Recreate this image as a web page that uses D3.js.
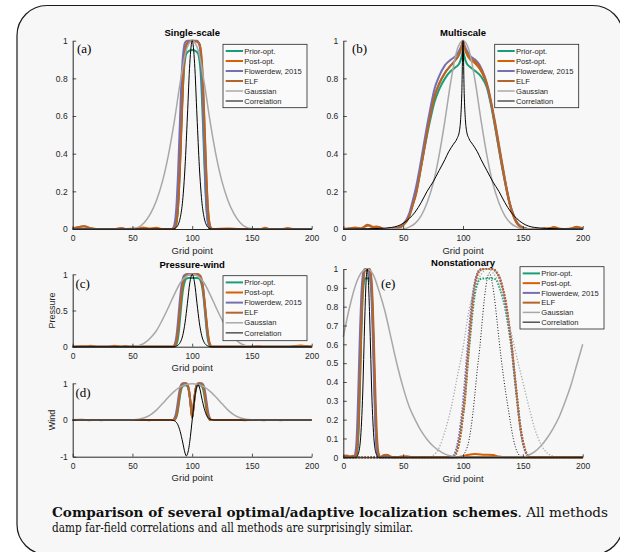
<!DOCTYPE html>
<html>
<head>
<meta charset="utf-8">
<script src="https://cdn.jsdelivr.net/npm/d3@7"></script>
<style>
  body { margin: 0; background: #fff; }
  svg { display: block; }
</style>
</head>
<body>
<svg id="chart" width="620" height="552"></svg>
<script>
// ---------- Data ----------
const gridTicks = [0, 50, 100, 150, 200];
const unitTicks = [0, 0.2, 0.4, 0.6, 0.8, 1];
const pressureTicks = [0, 0.5, 1];
const windTicks = [-1, 0, 1];
const tenthTicks = [0, 0.1, 0.2, 0.3, 0.4, 0.5, 0.6, 0.7, 0.8, 0.9, 1];
const legendNames = ["Prior-opt.", "Post-opt.", "Flowerdew, 2015", "ELF", "Gaussian", "Correlation"];
const seriesColors = ["#1b9e77", "#d95f02", "#7570b3", "#b5652a", "#a8a8a8", "#000000"];

// (a) Single-scale
const aPrior = [[0,0],[84,0],[85,0.004],[86,0.01],[87,0.04],[88,0.1],[89,0.22],[90,0.38],[91,0.56],[92,0.72],[93,0.84],[94,0.9],[95,0.93],[97,0.945],[100,0.95],[103,0.945],[105,0.93],[106,0.9],[107,0.84],[108,0.72],[109,0.56],[110,0.38],[111,0.22],[112,0.1],[113,0.04],[114,0.01],[115,0],[200,0]];
const aPost = [[0,0.003],[4,0.009],[9,0.015],[14,0.006],[19,0],[36,0],[40,0.005],[44,0],[55,0.002],[59,0.008],[64,0.002],[70,0.007],[75,0],[84,0],[85,0.005],[86,0.015],[87,0.05],[88,0.12],[89,0.24],[90,0.4],[91,0.58],[92,0.75],[93,0.88],[94,0.95],[95,0.98],[97,0.995],[100,1],[104,0.995],[106,0.98],[107,0.95],[108,0.88],[109,0.76],[110,0.59],[111,0.41],[112,0.25],[113,0.12],[114,0.05],[115,0.015],[116,0.003],[117,0],[130,0.002],[140,0],[157,0],[161,0.006],[165,0],[176,0],[180,0.005],[184,0],[200,0]];
const aFlow = [[0,0],[83,0],[84,0.005],[85,0.02],[86,0.06],[87,0.14],[88,0.27],[89,0.44],[90,0.62],[91,0.79],[92,0.9],[93,0.96],[94,0.99],[96,1],[100,1],[104,1],[106,0.98],[107,0.93],[108,0.82],[109,0.64],[110,0.44],[111,0.26],[112,0.12],[113,0.04],[114,0.01],[115,0],[200,0]];
const aElf = [[0,0.002],[5,0.01],[10,0.014],[15,0.004],[20,0],[38,0],[41,0.004],[45,0],[84,0],[85,0.004],[86,0.012],[87,0.04],[88,0.1],[89,0.21],[90,0.36],[91,0.54],[92,0.71],[93,0.85],[94,0.93],[95,0.97],[97,0.99],[100,1],[104,0.995],[106,0.985],[107,0.96],[108,0.9],[109,0.79],[110,0.62],[111,0.44],[112,0.27],[113,0.13],[114,0.05],[115,0.015],[116,0.004],[117,0],[200,0]];
const aGauss = [[0,0],[48,0],[50,0.002],[55,0.01],[60,0.035],[65,0.08],[70,0.15],[75,0.25],[80,0.39],[85,0.57],[90,0.78],[95,0.95],[100,1],[105,0.95],[110,0.78],[115,0.57],[120,0.39],[125,0.25],[130,0.15],[135,0.08],[140,0.035],[145,0.01],[150,0.002],[152,0],[200,0]];
const aCorr = [[0,0],[84,0],[86,0.005],[88,0.02],[90,0.06],[92,0.15],[94,0.33],[96,0.6],[98,0.88],[100,1],[102,0.88],[104,0.6],[106,0.33],[108,0.15],[110,0.06],[112,0.02],[114,0.005],[116,0],[200,0]];

// (b) Multiscale
const bPrior = [[0,0],[40,0],[45,0.004],[50,0.02],[55,0.07],[58,0.13],[61,0.2],[64,0.3],[67,0.4],[70,0.5],[73,0.59],[76,0.67],[80,0.74],[85,0.8],[90,0.84],[94,0.86],[97,0.88],[99,0.92],[100,0.95],[101,0.92],[103,0.88],[106,0.86],[110,0.84],[115,0.81],[120,0.75],[123,0.67],[126,0.57],[129,0.46],[132,0.35],[135,0.25],[138,0.16],[141,0.09],[144,0.045],[148,0.015],[153,0.002],[156,0],[200,0]];
const bPost = [[0,0],[5,0.003],[10,0.008],[15,0.003],[20,0.022],[24,0.01],[28,0.013],[32,0.002],[36,0],[42,0.002],[46,0.008],[50,0.022],[55,0.07],[58,0.13],[61,0.2],[64,0.3],[67,0.41],[70,0.52],[73,0.62],[76,0.7],[80,0.77],[85,0.83],[90,0.87],[94,0.9],[97,0.93],[99,0.97],[100,1],[101,0.97],[103,0.93],[106,0.9],[110,0.88],[114,0.85],[118,0.8],[121,0.74],[124,0.65],[127,0.54],[130,0.43],[133,0.32],[136,0.22],[139,0.13],[142,0.07],[145,0.03],[149,0.008],[154,0],[163,0],[168,0.004],[172,0.002],[176,0.01],[181,0.002],[186,0],[192,0.006],[195,0.012],[198,0.006],[200,0.003]];
const bFlow = [[0,0],[40,0],[45,0.006],[50,0.025],[55,0.08],[58,0.15],[61,0.23],[64,0.33],[67,0.44],[70,0.55],[73,0.65],[76,0.74],[80,0.81],[85,0.87],[90,0.9],[94,0.92],[97,0.95],[99,0.98],[100,1],[101,0.98],[103,0.95],[106,0.92],[110,0.9],[114,0.87],[118,0.81],[121,0.74],[124,0.65],[127,0.55],[130,0.44],[133,0.33],[136,0.23],[139,0.14],[142,0.08],[145,0.035],[149,0.01],[154,0],[200,0]];
const bElf = [[0,0],[8,0.004],[13,0],[18,0.012],[22,0.02],[26,0.006],[30,0.01],[34,0],[40,0],[45,0.005],[50,0.02],[55,0.065],[58,0.125],[61,0.19],[64,0.29],[67,0.4],[70,0.51],[73,0.61],[76,0.7],[80,0.77],[85,0.83],[90,0.87],[94,0.9],[97,0.93],[99,0.97],[100,1],[101,0.97],[103,0.94],[106,0.91],[110,0.89],[114,0.86],[118,0.81],[121,0.75],[124,0.66],[127,0.56],[130,0.45],[133,0.34],[136,0.23],[139,0.14],[142,0.075],[145,0.035],[149,0.01],[154,0],[170,0],[175,0.008],[180,0],[190,0],[194,0.01],[200,0.004]];
const bGauss = [[0,0],[50,0],[52,0.003],[55,0.01],[60,0.03],[65,0.07],[70,0.14],[75,0.24],[80,0.39],[85,0.58],[90,0.79],[95,0.95],[100,1],[105,0.95],[110,0.79],[115,0.58],[120,0.39],[125,0.24],[130,0.14],[135,0.07],[140,0.03],[145,0.01],[148,0.003],[150,0],[200,0]];
const bCorr = [[0,0],[20,0.001],[30,0.003],[40,0.008],[45,0.015],[50,0.03],[55,0.055],[60,0.09],[65,0.14],[70,0.2],[75,0.25],[80,0.31],[85,0.37],[88,0.41],[92,0.45],[95,0.48],[97,0.52],[98,0.58],[99,0.72],[100,1],[101,0.72],[102,0.58],[103,0.52],[105,0.48],[108,0.45],[112,0.41],[115,0.37],[120,0.31],[125,0.25],[130,0.2],[135,0.14],[140,0.09],[145,0.055],[150,0.03],[155,0.015],[160,0.008],[170,0.003],[180,0.001],[200,0]];

// (c) Pressure-wind, pressure part
const cPrior = [[0,0],[85,0],[86,0.01],[87,0.04],[88,0.11],[89,0.24],[90,0.42],[91,0.6],[92,0.75],[93,0.85],[94,0.91],[95,0.94],[97,0.95],[104,0.95],[106,0.94],[107,0.91],[108,0.85],[109,0.75],[110,0.6],[111,0.42],[112,0.24],[113,0.11],[114,0.04],[115,0.01],[116,0],[200,0]];
const cPost = [[0,0],[10,0],[15,0.012],[20,0],[30,0],[35,0.012],[40,0],[84,0],[85,0.01],[86,0.04],[87,0.1],[88,0.22],[89,0.4],[90,0.58],[91,0.74],[92,0.86],[93,0.94],[94,0.98],[96,1],[104,1],[106,0.99],[107,0.96],[108,0.9],[109,0.8],[110,0.66],[111,0.5],[112,0.34],[113,0.19],[114,0.08],[115,0.025],[116,0.005],[117,0],[180,0],[185,0.008],[191,0.015],[196,0.008],[200,0.004]];
const cFlow = [[0,0],[84,0],[85,0.02],[86,0.07],[87,0.17],[88,0.33],[89,0.52],[90,0.7],[91,0.84],[92,0.93],[93,0.98],[95,1],[105,1],[107,0.97],[108,0.92],[109,0.82],[110,0.66],[111,0.48],[112,0.3],[113,0.15],[114,0.06],[115,0.015],[116,0],[200,0]];
const cElf = [[0,0],[8,0.006],[14,0],[40,0],[44,0.008],[48,0],[84,0],[85,0.008],[86,0.035],[87,0.09],[88,0.2],[89,0.37],[90,0.55],[91,0.72],[92,0.85],[93,0.93],[94,0.97],[96,0.995],[104,1],[106,0.99],[107,0.97],[108,0.92],[109,0.83],[110,0.69],[111,0.53],[112,0.36],[113,0.2],[114,0.09],[115,0.03],[116,0.006],[117,0],[150,0],[155,0.006],[160,0],[200,0]];
const cGauss = [[0,0],[48,0],[50,0.003],[55,0.015],[60,0.05],[65,0.12],[70,0.22],[75,0.37],[80,0.54],[85,0.72],[90,0.88],[95,0.97],[100,1],[105,0.97],[110,0.88],[115,0.72],[120,0.54],[125,0.37],[130,0.22],[135,0.12],[140,0.05],[145,0.015],[150,0.003],[152,0],[200,0]];
const cCorr = [[0,0],[84,0],[86,0.005],[88,0.02],[90,0.06],[92,0.15],[94,0.33],[96,0.6],[98,0.88],[100,1],[102,0.88],[104,0.6],[106,0.33],[108,0.15],[110,0.06],[112,0.02],[114,0.005],[116,0],[200,0]];

// (d) Pressure-wind, wind part
const dPrior = [[0,0],[85,0],[86,0.03],[87,0.1],[88,0.25],[89,0.48],[90,0.7],[91,0.85],[92,0.92],[94,0.95],[96,0.92],[97,0.82],[98,0.6],[99,0.3],[100,0.06],[101,0.3],[102,0.6],[103,0.82],[104,0.92],[106,0.95],[108,0.92],[109,0.85],[110,0.7],[111,0.48],[112,0.25],[113,0.1],[114,0.03],[115,0],[200,0]];
const dPost = [[0,0],[8,0.004],[12,0],[20,0],[24,-0.006],[28,0],[84,0],[85,0.02],[86,0.07],[87,0.18],[88,0.38],[89,0.62],[90,0.82],[91,0.94],[92,0.99],[94,1],[96,0.97],[97,0.87],[98,0.65],[99,0.33],[100,0.07],[101,0.33],[102,0.65],[103,0.87],[104,0.97],[106,1],[108,0.99],[109,0.94],[110,0.82],[111,0.62],[112,0.38],[113,0.18],[114,0.07],[115,0.02],[116,0],[140,0],[144,-0.005],[148,0],[170,0],[174,-0.005],[178,0],[200,0]];
const dFlow = [[0,0],[84,0],[85,0.04],[86,0.12],[87,0.28],[88,0.5],[89,0.73],[90,0.9],[91,0.97],[92,1],[95,1],[96,0.96],[97,0.85],[98,0.64],[99,0.34],[100,0.08],[101,0.34],[102,0.64],[103,0.85],[104,0.96],[105,1],[108,1],[109,0.97],[110,0.9],[111,0.73],[112,0.5],[113,0.28],[114,0.12],[115,0.04],[116,0],[200,0]];
const dElf = [[0,0],[10,0],[14,-0.005],[18,0],[60,0],[64,-0.004],[68,0],[85,0],[86,0.05],[87,0.14],[88,0.32],[89,0.56],[90,0.78],[91,0.92],[92,0.98],[94,0.99],[96,0.96],[97,0.86],[98,0.64],[99,0.33],[100,0.07],[101,0.33],[102,0.64],[103,0.86],[104,0.96],[106,0.99],[108,0.98],[109,0.93],[110,0.8],[111,0.6],[112,0.36],[113,0.17],[114,0.06],[115,0.015],[116,0],[155,0],[160,-0.005],[165,0],[200,0]];
const dGauss = [[0,0],[45,0],[50,0.005],[55,0.02],[60,0.06],[65,0.14],[70,0.27],[75,0.44],[80,0.62],[85,0.78],[90,0.9],[95,0.97],[100,0.99],[105,0.97],[110,0.9],[115,0.78],[120,0.62],[125,0.44],[130,0.27],[135,0.14],[140,0.06],[145,0.02],[150,0.005],[155,0],[200,0]];
const dCorr = [[0,0],[82,0],[84,-0.01],[86,-0.04],[88,-0.13],[90,-0.32],[92,-0.6],[94,-0.9],[95,-0.98],[96,-0.93],[97,-0.8],[98,-0.58],[99,-0.3],[100,0],[101,0.3],[102,0.58],[103,0.8],[104,0.93],[105,0.96],[106,0.9],[108,0.6],[110,0.32],[112,0.13],[114,0.04],[116,0.01],[118,0],[200,0]];

// (e) Nonstationary: solid = point 20, dotted = point 120
const ePrior = [[0,0],[10,0],[11,0.01],[12,0.05],[13,0.18],[14,0.4],[15,0.65],[16,0.83],[17,0.92],[18,0.95],[22,0.95],[23,0.92],[24,0.83],[25,0.65],[26,0.4],[27,0.18],[28,0.05],[29,0.01],[30,0],[200,0]];
const ePost = [[0,0.004],[3,0.01],[6,0.002],[9,0.006],[10,0.01],[11,0.03],[12,0.1],[13,0.27],[14,0.5],[15,0.74],[16,0.9],[17,0.97],[18,0.995],[21,1],[22,0.99],[23,0.96],[24,0.86],[25,0.66],[26,0.42],[27,0.2],[28,0.07],[29,0.02],[30,0.005],[32,0],[34,0.008],[37,0.012],[40,0.002],[44,0],[48,0.004],[53,0.006],[58,0],[95,0],[100,0.006],[105,0.014],[110,0.017],[118,0.014],[125,0.012],[130,0.004],[135,0],[200,0]];
const eFlow = [[0,0],[9,0],[10,0.02],[11,0.08],[12,0.24],[13,0.46],[14,0.68],[15,0.85],[16,0.95],[17,0.99],[18,1],[21,1],[22,0.98],[23,0.92],[24,0.78],[25,0.56],[26,0.32],[27,0.14],[28,0.04],[29,0.01],[30,0],[200,0]];
const eElf = [[0,0.002],[2,0.008],[5,0.004],[8,0.008],[10,0.005],[11,0.02],[12,0.08],[13,0.22],[14,0.44],[15,0.68],[16,0.86],[17,0.95],[18,0.99],[20,1],[22,1],[23,0.98],[24,0.9],[25,0.74],[26,0.52],[27,0.3],[28,0.13],[29,0.04],[30,0.01],[31,0],[33,0.01],[36,0.014],[39,0.005],[42,0],[200,0]];
const eGauss = [[0,0.64],[5,0.79],[10,0.91],[15,0.98],[20,1],[25,0.97],[30,0.88],[35,0.77],[40,0.63],[45,0.49],[50,0.37],[55,0.27],[60,0.2],[65,0.14],[70,0.095],[75,0.06],[80,0.035],[85,0.017],[90,0.007],[95,0.002],[100,0],[150,0],[155,0.012],[160,0.03],[165,0.06],[170,0.1],[175,0.15],[180,0.21],[185,0.29],[190,0.38],[195,0.49],[200,0.6]];
const eCorr = [[0,0],[11,0],[12,0.01],[14,0.07],[16,0.3],[18,0.75],[19,0.93],[20,1],[21,0.93],[22,0.75],[24,0.3],[26,0.07],[28,0.01],[29,0],[200,0]];
const ePriorDot = [[0,0],[92,0],[94,0.02],[96,0.055],[98,0.12],[100,0.22],[102,0.33],[104,0.5],[106,0.64],[108,0.77],[110,0.87],[112,0.92],[114,0.945],[117,0.95],[125,0.95],[128,0.94],[130,0.91],[133,0.85],[135,0.8],[137,0.73],[139,0.65],[141,0.55],[143,0.43],[145,0.31],[147,0.2],[149,0.11],[151,0.055],[153,0.02],[155,0.005],[157,0],[200,0]];
const ePostDot = [[0,0],[92,0],[94,0.02],[96,0.06],[98,0.13],[100,0.23],[102,0.35],[104,0.53],[106,0.68],[108,0.82],[110,0.92],[112,0.97],[114,0.995],[118,1],[124,1],[127,0.99],[130,0.96],[133,0.9],[135,0.85],[137,0.77],[139,0.68],[141,0.58],[143,0.45],[145,0.33],[147,0.21],[149,0.12],[151,0.06],[153,0.02],[155,0.005],[157,0],[200,0]];
const eFlowDot = [[0,0],[91,0],[93,0.02],[95,0.06],[97,0.13],[99,0.23],[101,0.36],[103,0.52],[105,0.67],[107,0.8],[109,0.9],[111,0.96],[113,0.99],[116,1],[124,1],[127,0.99],[130,0.96],[133,0.9],[135,0.84],[137,0.76],[139,0.67],[141,0.57],[143,0.44],[145,0.32],[147,0.2],[149,0.11],[151,0.05],[153,0.015],[155,0],[200,0]];
const eElfDot = [[0,0],[92,0],[94,0.015],[96,0.05],[98,0.12],[100,0.22],[102,0.34],[104,0.51],[106,0.66],[108,0.8],[110,0.91],[112,0.965],[114,0.99],[118,1],[125,1],[128,0.985],[131,0.95],[134,0.88],[136,0.82],[138,0.73],[140,0.63],[142,0.51],[144,0.39],[146,0.27],[148,0.16],[150,0.09],[152,0.04],[154,0.012],[156,0],[200,0]];
const eGaussDot = [[0,0],[70,0],[75,0.01],[80,0.05],[85,0.14],[90,0.26],[95,0.42],[100,0.58],[105,0.78],[110,0.9],[115,0.97],[120,1],[125,0.98],[130,0.92],[135,0.8],[140,0.67],[145,0.53],[150,0.4],[155,0.27],[160,0.15],[165,0.07],[170,0.025],[175,0.006],[180,0],[200,0]];
const eCorrDot = [[0,0],[98,0],[100,0.01],[102,0.03],[105,0.09],[108,0.22],[110,0.34],[112,0.47],[114,0.58],[116,0.72],[118,0.85],[120,0.94],[122,0.98],[124,0.94],[126,0.86],[128,0.75],[130,0.63],[132,0.52],[134,0.42],[136,0.33],[138,0.25],[140,0.17],[142,0.1],[144,0.05],[146,0.02],[148,0.005],[150,0],[200,0]];

// ---------- Layout ----------
const svg = d3.select("#chart");
const axisColor = "#262626";
const sansFont = "'Liberation Sans', Arial, Helvetica, sans-serif";
const serifFont = "'DejaVu Serif', Georgia, serif";

// rounded frame
svg.append("rect")
  .attr("x", 17).attr("y", 5.5)
  .attr("width", 606).attr("height", 549)
  .attr("rx", 30).attr("ry", 30)
  .attr("fill", "#f7f7f7")
  .attr("stroke", "#1a1a1a")
  .attr("stroke-width", 1.2);

// line widths per series slot
const lineWidths = [2, 2, 2, 2, 1.5, 1];

const panels = [
  { left: 72.7, right: 311.7, top: 40.7, bottom: 229, yDomain: [0, 1], yTicks: unitTicks,
    title: "Single-scale", titleY: 35.5, tag: "(a)", tagX: 77, tagY: 53,
    legend: { x: 223, y: 44.3, w: 84, h: 63.4, dy: 10 },
    solid: [aPrior, aPost, aFlow, aElf, aGauss, aCorr] },
  { left: 343.3, right: 582.7, top: 40.7, bottom: 229, yDomain: [0, 1], yTicks: unitTicks,
    title: "Multiscale", titleY: 35.5, tag: "(b)", tagX: 352, tagY: 53,
    legend: { x: 494.7, y: 44.3, w: 84, h: 63.4, dy: 10 },
    solid: [bPrior, bPost, bFlow, bElf, bGauss, bCorr] },
  { left: 72.7, right: 311.7, top: 274.3, bottom: 346.7, yDomain: [0, 1], yTicks: pressureTicks,
    title: "Pressure-wind", titleY: 267.5, tag: "(c)", tagX: 75.5, tagY: 288, yLabel: "Pressure",
    legend: { x: 223, y: 275.7, w: 84, h: 65, dy: 10.1 },
    solid: [cPrior, cPost, cFlow, cElf, cGauss, cCorr] },
  { left: 72.7, right: 311.7, top: 383.3, bottom: 456.7, yDomain: [-1, 1], yTicks: windTicks,
    tag: "(d)", tagX: 75.5, tagY: 397, yLabel: "Wind",
    solid: [dPrior, dPost, dFlow, dElf, dGauss, dCorr] },
  { left: 343.3, right: 582.7, top: 269, bottom: 457.3, yDomain: [0, 1], yTicks: tenthTicks,
    title: "Nonstationary", titleY: 265.5, tag: "(e)", tagX: 381, tagY: 288,
    legend: { x: 520, y: 266.7, w: 84, h: 62.3, dy: 9.75 },
    solid: [ePrior, ePost, eFlow, eElf, eGauss, eCorr],
    dotted: [ePriorDot, ePostDot, eFlowDot, eElfDot, eGaussDot, eCorrDot] }
];

panels.forEach(p => {
  const x = d3.scaleLinear().domain([0, 200]).range([p.left, p.right]);
  const y = d3.scaleLinear().domain(p.yDomain).range([p.bottom, p.top]);
  const g = svg.append("g");

  const line = d3.line()
    .x(d => x(d[0]))
    .y(d => y(d[1]))
    .curve(d3.curveMonotoneX);

  // dotted copies first (they sit under the solid ones)
  if (p.dotted) {
    const dotDash = ["1.6,1.4", "1.6,1.4", "1.6,1.4", "1.6,1.4", "1.2,1.8", "1,1.8"];
    const dotWidth = [2, 2, 2, 2, 1.3, 0.9];
    p.dotted.forEach((data, i) => {
      g.append("path")
        .attr("d", line(data))
        .attr("fill", "none")
        .attr("stroke", seriesColors[i])
        .attr("stroke-width", dotWidth[i])
        .attr("stroke-dasharray", dotDash[i]);
    });
  }

  p.solid.forEach((data, i) => {
    g.append("path")
      .attr("d", line(data))
      .attr("fill", "none")
      .attr("stroke", seriesColors[i])
      .attr("stroke-width", lineWidths[i])
      .attr("stroke-linejoin", "round");
  });

  // axes (MATLAB style, ticks pointing inward)
  const fs = 8.5;
  const xAxis = d3.axisBottom(x).tickValues(gridTicks).tickFormat(d => String(d))
    .tickSizeInner(-3).tickSizeOuter(0).tickPadding(12.2 - 0.71 * fs);
  const yAxis = d3.axisLeft(y).tickValues(p.yTicks).tickFormat(d => String(d))
    .tickSizeInner(-3.5).tickSizeOuter(0).tickPadding(5);

  const gx = g.append("g").attr("transform", `translate(0,${p.bottom})`).call(xAxis);
  const gy = g.append("g").attr("transform", `translate(${p.left},0)`).call(yAxis);
  [gx, gy].forEach(a => {
    a.select(".domain").attr("stroke", axisColor).attr("stroke-width", 1);
    a.selectAll(".tick line").attr("stroke", axisColor).attr("stroke-width", 0.8);
    a.selectAll(".tick text").attr("fill", axisColor)
      .style("font-family", sansFont).style("font-size", fs + "px");
  });

  g.append("text")
    .attr("x", (p.left + p.right) / 2)
    .attr("y", p.bottom + 24.5)
    .attr("text-anchor", "middle")
    .style("font-family", sansFont).style("font-size", "9.5px")
    .attr("fill", axisColor)
    .text("Grid point");

  if (p.title) {
    g.append("text")
      .attr("x", (p.left + p.right) / 2)
      .attr("y", p.titleY)
      .attr("text-anchor", "middle")
      .style("font-family", sansFont).style("font-size", "9.5px").style("font-weight", "bold")
      .attr("fill", "#000")
      .text(p.title);
  }

  if (p.yLabel) {
    g.append("text")
      .attr("transform", `translate(55,${(p.top + p.bottom) / 2}) rotate(-90)`)
      .attr("text-anchor", "middle")
      .style("font-family", sansFont).style("font-size", "9px")
      .attr("fill", axisColor)
      .text(p.yLabel);
  }

  g.append("text")
    .attr("x", p.tagX).attr("y", p.tagY)
    .style("font-family", "'Liberation Serif', 'Times New Roman', serif")
    .style("font-size", "13px")
    .attr("fill", "#000")
    .text(p.tag);

  if (p.legend) {
    const L = p.legend;
    const lg = g.append("g").attr("transform", `translate(${L.x},${L.y})`);
    lg.append("rect")
      .attr("width", L.w).attr("height", L.h)
      .attr("fill", "#fafafa")
      .attr("stroke", axisColor).attr("stroke-width", 0.8);
    legendNames.forEach((name, i) => {
      const ry = 6.7 + i * L.dy;
      lg.append("line")
        .attr("x1", 2.7).attr("x2", 20)
        .attr("y1", ry).attr("y2", ry)
        .attr("stroke", seriesColors[i])
        .attr("stroke-width", lineWidths[i]);
      lg.append("text")
        .attr("x", 21.3).attr("y", ry)
        .attr("dy", "0.35em")
        .style("font-family", sansFont).style("font-size", "7.6px")
        .attr("fill", axisColor)
        .text(name);
    });
  }
});

// caption
const cap1 = svg.append("text")
  .attr("x", 52).attr("y", 516.5)
  .style("font-family", serifFont).style("font-size", "12.5px")
  .attr("fill", "#111");
cap1.append("tspan").style("font-weight", "bold")
  .text("Comparison of several optimal/adaptive localization schemes");
cap1.append("tspan").text(". All methods");
cap1.attr("textLength", 556).attr("lengthAdjust", "spacingAndGlyphs");

svg.append("text")
  .attr("x", 52).attr("y", 532)
  .style("font-family", serifFont).style("font-size", "12.5px")
  .attr("fill", "#111")
  .attr("textLength", 361).attr("lengthAdjust", "spacingAndGlyphs")
  .text("damp far-field correlations and all methods are surprisingly similar.");
</script>
</body>
</html>
